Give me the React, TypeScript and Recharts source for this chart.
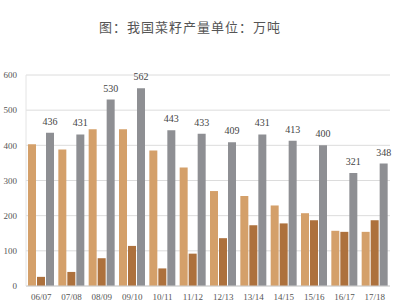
import { BarChart, Bar, XAxis, YAxis, CartesianGrid, LabelList } from "recharts";

const seasons = ["06/07", "07/08", "08/09", "09/10", "10/11", "11/12", "12/13", "13/14", "14/15", "15/16", "16/17", "17/18"];
const seriesA = [403, 388, 446, 446, 385, 337, 270, 256, 229, 207, 157, 154];
const seriesB = [26, 40, 79, 114, 50, 92, 136, 173, 178, 187, 154, 187];
const output = [436, 431, 530, 562, 443, 433, 409, 431, 413, 400, 321, 348];
const yTicks = [0, 100, 200, 300, 400, 500, 600];

const data = seasons.map((s, i) => ({ season: s, a: seriesA[i], b: seriesB[i], total: output[i] }));

const tickStyle = { fontSize: 9, fill: "#555", fontFamily: "Liberation Serif, serif" };

export default function App() {
  return (
    <div style={{ position: "absolute", left: 0, top: 0, width: 398, height: 301, background: "#fff" }}>
      <div
        style={{
          position: "absolute",
          top: 17,
          left: 0,
          width: 380,
          textAlign: "center",
          fontSize: 13,
          letterSpacing: 1,
          color: "#555",
          fontFamily: "Noto Sans CJK SC, serif",
        }}
      >
        图：我国菜籽产量单位：万吨
      </div>
      <BarChart
        width={398}
        height={301}
        data={data}
        margin={{ top: 75, right: 8, bottom: 0, left: 0 }}
        barSize={8}
        barGap={1}
      >
        <CartesianGrid vertical={false} stroke="#dcdcdc" />
        <XAxis
          dataKey="season"
          height={15}
          tickLine={false}
          axisLine={{ stroke: "#cfcfcf" }}
          tick={tickStyle}
          tickMargin={2}
          interval={0}
        />
        <YAxis
          width={26}
          domain={[0, 600]}
          ticks={yTicks}
          tickLine={false}
          tickSize={0}
          axisLine={{ stroke: "#e4e4e4" }}
          tick={tickStyle}
          tickMargin={9}
        />
        <Bar dataKey="a" fill="#D4A06A" isAnimationActive={false} />
        <Bar dataKey="b" fill="#AD713D" isAnimationActive={false} />
        <Bar dataKey="total" fill="#8E8F93" isAnimationActive={false}>
          <LabelList dataKey="total" position="top" offset={8} style={{ fontSize: 10, fill: "#444", fontFamily: "Liberation Serif, serif" }} />
        </Bar>
      </BarChart>
    </div>
  );
}
